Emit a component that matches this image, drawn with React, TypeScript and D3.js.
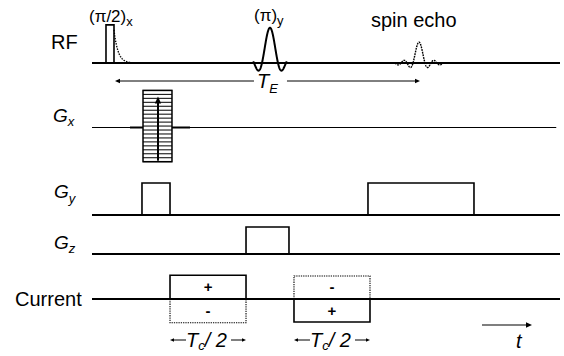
import React from "react";
import * as d3 from "d3";

// ---- data (time in arbitrary units 0..100, amplitude in a.u.) ----
const channelNames = ["RF", "Gx", "Gy", "Gz", "Current"];
const rfHardPulse = { start: 2.99, end: 4.7, amp: 1.06 };
const fid = { start: 4.7, tau: 0.85, end: 8.8, amp: 0.92 };
const sincPulses = [
  { name: "pi", center: 38.03, width: 1.71, span: 2.1, amp: 0.98, dotted: false },
  { name: "echo", center: 69.87, width: 1.28, span: 4.0, amp: 0.58, dotted: true },
];
const teArrow = { start: 4.91, end: 70.09 };
const gxTable = { start: 10.9, end: 17.09, top: 1.03, bottom: -0.95, lines: 19, arrowAt: 14.1 };
const gxThick = { start: 8.12, end: 20.94 };
const gyPulses = [
  { start: 10.68, end: 16.67, amp: 0.89 },
  { start: 58.97, end: 81.62, amp: 0.89 },
];
const gzPulses = [{ start: 32.91, end: 42.09, amp: 0.75 }];
const currentLobes = [
  { start: 16.67, end: 32.91, amp: 0.66, solidSign: 1 },
  { start: 43.16, end: 59.4, amp: 0.64, solidSign: -1 },
];
const timeArrow = { start: 83.33, end: 94.02 };

const sinc = (u: number) => (u === 0 ? 1 : Math.sin(Math.PI * u) / (Math.PI * u));

function Arrowhead({ x, y, dir, size = 6 }: { x: number; y: number; dir: "l" | "r" | "u"; size?: number }) {
  const h = size * 0.45;
  let pts: [number, number][];
  if (dir === "r") pts = [[x, y], [x - size, y - h], [x - size, y + h]];
  else if (dir === "l") pts = [[x, y], [x + size, y - h], [x + size, y + h]];
  else pts = [[x, y], [x - h, y + size], [x + h, y + size]];
  return <polygon points={pts.map((p) => p.join(",")).join(" ")} fill="#000" />;
}

export default function App() {
  const W = 564, H = 356;
  const x = d3.scaleLinear().domain([0, 100]).range([92, 560]);
  const amp = d3.scaleLinear().domain([0, 1]).range([0, 36]);
  const base: Record<string, number> = { RF: 63, Gx: 127.5, Gy: 215, Gz: 254, Current: 299 };
  const font = "'Liberation Sans', Arial, Helvetica, sans-serif";
  const fs = 20;
  const line = d3.line<[number, number]>().x((d) => d[0]).y((d) => d[1]);

  const sincPaths = sincPulses.map((p) => {
    const us = d3.range(-p.span, p.span + 1e-9, 0.02);
    const pts: [number, number][] = us.map((u) => [x(p.center + u * p.width), base.RF - amp(p.amp * sinc(u))]);
    return { d: line(pts)!, dotted: p.dotted };
  });
  const fidPts: [number, number][] = d3
    .range(fid.start, fid.end, 0.05)
    .map((t) => [x(t), base.RF - amp(fid.amp * Math.exp(-(t - fid.start) / fid.tau))]);

  const rect = (start: number, end: number, b: number, a: number) =>
    line([
      [x(start), b],
      [x(start), b - amp(a)],
      [x(end), b - amp(a)],
      [x(end), b],
    ])!;

  const tableTop = base.Gx - amp(gxTable.top);
  const tableBot = base.Gx - amp(gxTable.bottom);
  const tableLines = d3.range(gxTable.lines).map((i) => tableTop + ((tableBot - tableTop) * i) / (gxTable.lines - 1));

  const teY = 81;
  const teMid = x(38.03);

  return (
    <svg width={W} height={H} style={{ position: "absolute", left: 0, top: 0 }} fontFamily={font}>
      <rect width={W} height={H} fill="#fff" />
      {/* channel labels */}
      <text x={51} y={49} fontSize={fs}>RF</text>
      <text x={53} y={122} fontSize={19} fontStyle="italic">G<tspan fontSize={13} dy={4}>x</tspan></text>
      <text x={54} y={198} fontSize={19} fontStyle="italic">G<tspan fontSize={13} dy={5}>y</tspan></text>
      <text x={54} y={249} fontSize={19} fontStyle="italic">G<tspan fontSize={13} dy={4}>z</tspan></text>
      <text x={15} y={306} fontSize={fs}>Current</text>

      {/* baselines */}
      {channelNames.map((c) => (
        <line key={c} x1={x(0)} x2={x(c === "Gx" ? 99.2 : 100)} y1={base[c]} y2={base[c]} stroke="#000" strokeWidth={c === "Gx" ? 1 : 2} />
      ))}

      {/* RF */}
      <path d={rect(rfHardPulse.start, rfHardPulse.end, base.RF, rfHardPulse.amp)} fill="none" stroke="#000" strokeWidth={1.6} />
      <path d={line(fidPts)!} fill="none" stroke="#000" strokeWidth={1.3} strokeDasharray="1.5,1.2" />
      {sincPaths.map((p, i) => (
        <path key={i} d={p.d} fill="none" stroke="#000" strokeWidth={p.dotted ? 1.4 : 2} strokeDasharray={p.dotted ? "1.8,0.9" : undefined} />
      ))}
      <text x={89} y={22} fontSize={17}>(π/2)<tspan fontSize={13} dy={4}>x</tspan></text>
      <text x={254} y={21} fontSize={17}>(π)<tspan fontSize={13} dy={4}>y</tspan></text>
      <text x={371} y={27} fontSize={fs}>spin echo</text>

      {/* TE arrow */}
      <line x1={x(teArrow.start) + 3} x2={teMid - 16} y1={teY} y2={teY} stroke="#000" strokeWidth={1} />
      <line x1={teMid + 17} x2={x(teArrow.end) - 3} y1={teY} y2={teY} stroke="#000" strokeWidth={1} />
      <Arrowhead x={x(teArrow.start)} y={teY} dir="l" size={5} />
      <Arrowhead x={x(teArrow.end)} y={teY} dir="r" size={5} />
      <text x={teMid - 13} y={88} fontSize={fs} fontStyle="italic">T<tspan fontSize={13} dy={5}>E</tspan></text>

      {/* Gx phase-encoding table */}
      <line x1={x(gxThick.start)} x2={x(gxThick.end)} y1={base.Gx} y2={base.Gx} stroke="#000" strokeWidth={1.8} />
      <rect x={x(gxTable.start)} y={tableTop} width={x(gxTable.end) - x(gxTable.start)} height={tableBot - tableTop} fill="#fff" stroke="#000" strokeWidth={1.5} />
      {tableLines.map((yy, i) => (
        <line key={i} x1={x(gxTable.start)} x2={x(gxTable.end)} y1={yy} y2={yy} stroke="#000" strokeWidth={1} />
      ))}
      <line x1={x(gxTable.arrowAt)} x2={x(gxTable.arrowAt)} y1={tableBot - 1} y2={tableTop + 10} stroke="#000" strokeWidth={2} />
      <Arrowhead x={x(gxTable.arrowAt)} y={tableTop + 6} dir="u" size={7} />

      {/* Gy, Gz */}
      {gyPulses.map((p, i) => (
        <path key={"gy" + i} d={rect(p.start, p.end, base.Gy, p.amp)} fill="none" stroke="#000" strokeWidth={1.6} />
      ))}
      {gzPulses.map((p, i) => (
        <path key={"gz" + i} d={rect(p.start, p.end, base.Gz, p.amp)} fill="none" stroke="#000" strokeWidth={1.6} />
      ))}

      {/* Current */}
      {currentLobes.map((p, i) => {
        const x0 = x(p.start), x1 = x(p.end);
        const b = base.Current;
        const cx = (x0 + x1) / 2;
        return (
          <g key={"cur" + i}>
            <path d={rect(p.start, p.end, b, p.amp * p.solidSign)} fill="none" stroke="#000" strokeWidth={1.6} />
            <path d={rect(p.start, p.end, b, -p.amp * p.solidSign)} fill="none" stroke="#000" strokeWidth={1.1} strokeDasharray="1.3,1" />
            <text x={cx} y={b - amp(p.amp) / 2 + 5} fontSize={15} textAnchor="middle" fontWeight="bold">{p.solidSign > 0 ? "+" : "-"}</text>
            <text x={cx} y={b + amp(p.amp) / 2 + 5} fontSize={15} textAnchor="middle" fontWeight="bold">{p.solidSign > 0 ? "-" : "+"}</text>
            <line x1={x0 + 3} x2={x0 + 16} y1={340} y2={340} stroke="#000" strokeWidth={1} />
            <Arrowhead x={x0} y={340} dir="l" size={4} />
            <line x1={x1 - 15} x2={x1 - 3} y1={340} y2={340} stroke="#000" strokeWidth={1} />
            <Arrowhead x={x1} y={340} dir="r" size={4} />
            <text x={x0 + 16} y={347} fontSize={fs} fontStyle="italic">T<tspan fontSize={13} dy={3}>c</tspan><tspan dy={-3}>/ 2</tspan></text>
          </g>
        );
      })}

      {/* time arrow */}
      <line x1={x(timeArrow.start)} x2={x(timeArrow.end) - 4} y1={325} y2={325} stroke="#000" strokeWidth={1.2} />
      <Arrowhead x={x(timeArrow.end)} y={325} dir="r" size={6} />
      <text x={516} y={348} fontSize={fs} fontStyle="italic">t</text>
    </svg>
  );
}
